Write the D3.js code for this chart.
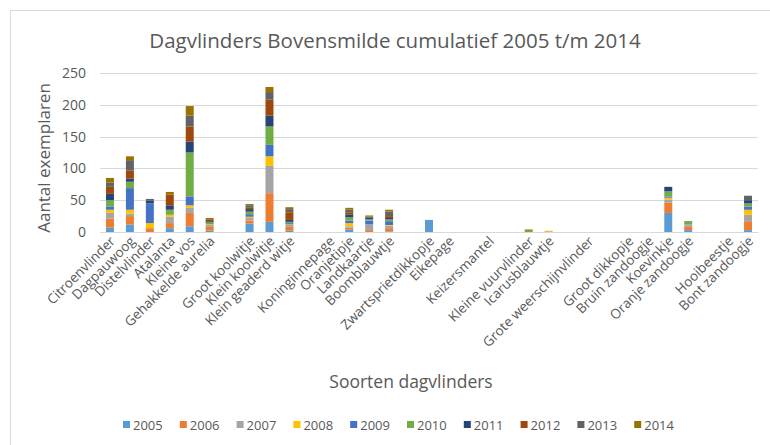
<!DOCTYPE html>
<html>
<head>
<meta charset="utf-8">
<script src="https://cdn.jsdelivr.net/npm/d3@7"></script>
<style>
  body { margin: 0; background: #fff; }
  text { font-family: "Open Sans", sans-serif; }
</style>
</head>
<body>
<div class="canvas"></div>
<script>
// soorten (lege namen = lege rijen in de tabel)
const soorten = ['Citroenvlinder', 'Dagpauwoog', 'Distelvlinder', 'Atalanta', 'Kleine vos',
  'Gehakkelde aurelia', '', 'Groot koolwitje', 'Klein koolwitje', 'Klein geaderd witje', '',
  'Koninginnepage', 'Oranjetipje', 'Landkaartje', 'Boomblauwtje', '', 'Zwartsprietdikkopje',
  'Eikepage', '', 'Keizersmantel', '', 'Kleine vuurvlinder', 'Icarusblauwtje', '',
  'Grote weerschijnvlinder', '', 'Groot dikkopje', 'Bruin zandoogje', 'Koevinkje',
  'Oranje zandoogje', '', 'Hooibeestje', 'Bont zandoogje'];

const jaren = ['2005', '2006', '2007', '2008', '2009', '2010', '2011', '2012', '2013', '2014'];

//                 Cit Dag Dis Ata KVo Geh  -  GKo KKo KGe  -  Kon Ora Lan Boo  -  Zwa Eik  -  Kei  -  KVu Ica  -  GWe  -  GDi BZa Koe OZa  -  Hoo BoZ
const j2005 =     [  7, 12,  0,  6,  9,  2, 0, 13, 16,  2, 0,  0,  4,  0,  1, 0, 19,  0, 0,  0, 0,  0,  0, 0,  0, 0,  0,  0, 30,  3, 0,  0,  3];
const j2006 =     [ 14, 13,  6,  8, 21,  6, 0,  5, 45,  6, 0,  0,  3,  3,  5, 0,  0,  0, 0,  0, 0,  0,  1, 0,  0, 0,  0,  0, 16,  6, 0,  0, 14];
const j2007 =     [  9,  4,  0, 10,  8,  3, 0,  4, 43,  3, 0,  0,  2,  9,  4, 0,  0,  0, 0,  0, 0,  0,  0, 0,  0, 0,  0,  0,  5,  3, 0,  0, 10];
const j2008 =     [  5,  6,  8,  3,  4,  1, 0,  2, 15,  1, 0,  0,  5,  0,  1, 0,  0,  0, 0,  0, 0,  0,  1, 0,  0, 0,  0,  0,  3,  0, 0,  0,  8];
const j2009 =     [  5, 34, 31,  0, 14,  0, 0,  4, 18,  2, 0,  0,  4,  6,  6, 0,  0,  0, 0,  0, 0,  0,  0, 0,  0, 0,  0,  0,  2,  0, 0,  0,  5];
const j2010 =     [ 10, 10,  0,  8, 69,  3, 0,  4, 29,  2, 0,  0,  5,  2,  3, 0,  0,  0, 0,  0, 0,  2,  0, 0,  0, 0,  0,  0,  8,  4, 0,  0,  5];
const j2011 =     [ 10,  5,  4,  7, 17,  2, 0,  4, 17,  3, 0,  0,  4,  3,  2, 0,  0,  0, 0,  0, 0,  0,  0, 0,  0, 0,  0,  0,  7,  0, 0,  0,  5];
const j2012 =     [ 11, 13,  0, 17, 24,  3, 0,  2, 25, 12, 0,  0,  4,  0,  3, 0,  0,  0, 0,  0, 0,  0,  0, 0,  0, 0,  0,  0,  0,  0, 0,  0,  0];
const j2013 =     [  7, 16,  3,  0, 17,  0, 0,  4, 12,  5, 0,  0,  4,  1,  7, 0,  0,  0, 0,  0, 0,  0,  0, 0,  0, 0,  0,  0,  0,  1, 0,  0,  7];
const j2014 =     [  7,  6,  0,  4, 15,  2, 0,  2,  8,  3, 0,  0,  3,  2,  3, 0,  0,  0, 0,  0, 0,  2,  0, 0,  0, 0,  0,  0,  0,  0, 0,  0,  0];

const reeksen = [j2005, j2006, j2007, j2008, j2009, j2010, j2011, j2012, j2013, j2014];
const kleuren = ['#5B9BD5', '#ED7D31', '#A5A5A5', '#FFC000', '#4472C4',
                 '#70AD47', '#264478', '#9E480E', '#636363', '#997300'];
const yTicks = [0, 50, 100, 150, 200, 250];

const dims = { width: 770, height: 445 };
const plot = { left: 100, right: 758, top: 73, bottom: 232 };

const svg = d3.select('.canvas')
    .append('svg')
    .attr('width', dims.width)
    .attr('height', dims.height);

// chart frame
svg.append('rect')
    .attr('x', 10.5).attr('y', 10.5)
    .attr('width', 770).attr('height', 440)
    .attr('fill', 'none')
    .attr('stroke', '#d9d9d9');

// build rows for stacking
const rows = soorten.map((s, i) => {
    const r = { idx: i, naam: s };
    jaren.forEach((j, k) => r[j] = reeksen[k][i]);
    return r;
});

const x = d3.scaleBand()
    .domain(rows.map(d => d.idx))
    .range([plot.left, plot.right])
    .paddingInner(0.6)
    .paddingOuter(0.3);

const y = d3.scaleLinear()
    .domain([0, 250])
    .range([plot.bottom, plot.top]);

const colour = d3.scaleOrdinal().domain(jaren).range(kleuren);

// gridlines
svg.append('g')
    .selectAll('line')
    .data(yTicks)
    .join('line')
    .attr('x1', plot.left).attr('x2', plot.right)
    .attr('y1', d => Math.round(y(d)) + 0.5)
    .attr('y2', d => Math.round(y(d)) + 0.5)
    .attr('stroke', '#d9d9d9')
    .attr('stroke-width', 1);

// y axis labels
const yAxis = svg.append('g')
    .attr('transform', `translate(${plot.left - 14},0)`)
    .call(d3.axisLeft(y).tickValues(yTicks).tickSize(0).tickPadding(0));
yAxis.select('.domain').remove();
yAxis.selectAll('text')
    .attr('fill', '#595959')
    .style('font-size', '14px');

// stacked bars
const stack = d3.stack().keys(jaren);
const series = stack(rows);

svg.append('g')
    .selectAll('g')
    .data(series)
    .join('g')
    .attr('fill', d => colour(d.key))
    .selectAll('rect')
    .data(d => d.filter(p => p[1] - p[0] > 0))
    .join('rect')
    .attr('x', d => x(d.data.idx))
    .attr('width', x.bandwidth())
    .attr('y', d => y(d[1]))
    .attr('height', d => y(d[0]) - y(d[1]));

// x axis
const xAxis = svg.append('g')
    .attr('transform', `translate(0,${plot.bottom})`)
    .call(d3.axisBottom(x).tickSize(0).tickPadding(0).tickFormat(i => soorten[i]));
xAxis.select('.domain')
    .attr('stroke', '#d9d9d9');
xAxis.selectAll('text')
    .attr('fill', '#595959')
    .style('font-size', '13.5px')
    .attr('text-anchor', 'end')
    .attr('dy', null)
    .attr('transform', 'translate(6,10) rotate(-45)');

// titles
svg.append('text')
    .attr('x', 395).attr('y', 48)
    .attr('text-anchor', 'middle')
    .attr('fill', '#595959')
    .style('font-size', '20.5px')
    .text('Dagvlinders Bovensmilde cumulatief 2005 t/m 2014');

svg.append('text')
    .attr('transform', `translate(50,158) rotate(-90)`)
    .attr('text-anchor', 'middle')
    .attr('fill', '#595959')
    .style('font-size', '17px')
    .text('Aantal exemplaren');

svg.append('text')
    .attr('x', 411).attr('y', 388)
    .attr('text-anchor', 'middle')
    .attr('fill', '#595959')
    .style('font-size', '17.5px')
    .text('Soorten dagvlinders');

// legend
const legend = svg.append('g')
    .selectAll('g')
    .data(jaren)
    .join('g')
    .attr('transform', (d, i) => `translate(${123 + i * 56.8},425)`);

legend.append('rect')
    .attr('x', 0).attr('y', -4)
    .attr('width', 7).attr('height', 7)
    .attr('fill', d => colour(d));

legend.append('text')
    .attr('x', 10).attr('y', 0)
    .attr('dy', '0.35em')
    .attr('fill', '#595959')
    .style('font-size', '13px')
    .text(d => d);
</script>
</body>
</html>
